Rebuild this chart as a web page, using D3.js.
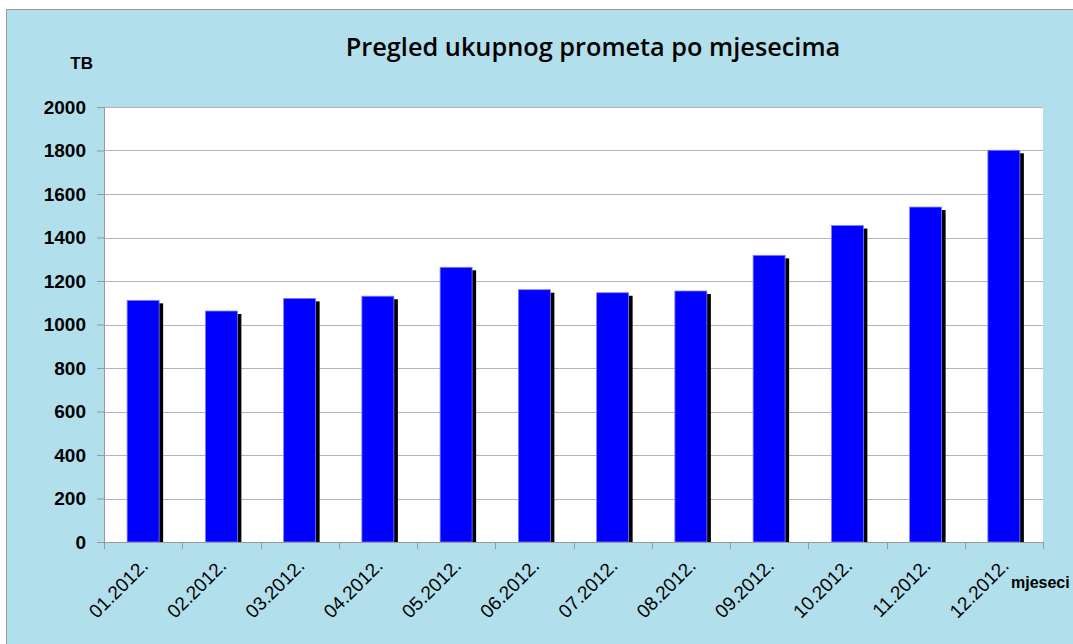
<!DOCTYPE html>
<html>
<head>
<meta charset="utf-8">
<script src="https://cdn.jsdelivr.net/npm/d3@7"></script>
<style>
  body { margin: 0; background: #fff; }
  svg { display: block; }
</style>
</head>
<body>
<div id="chart"></div>
<script>
// data
var months = ["01.2012.", "02.2012.", "03.2012.", "04.2012.", "05.2012.", "06.2012.",
              "07.2012.", "08.2012.", "09.2012.", "10.2012.", "11.2012.", "12.2012."];
var traffic = [1111, 1062, 1120, 1130, 1263, 1160, 1146, 1154, 1318, 1455, 1540, 1801];
var yTicks = [0, 200, 400, 600, 800, 1000, 1200, 1400, 1600, 1800, 2000];

var W = 1073, H = 644;
var margin = {top: 107, right: 30, bottom: 102, left: 104},
    width = 1043 - margin.left,
    height = 542 - margin.top;

var svg = d3.select("#chart")
    .append("svg")
    .attr("width", W)
    .attr("height", H);

// light blue chart background + frame
svg.append("rect")
    .attr("x", 6.5).attr("y", 9.5)
    .attr("width", W + 10).attr("height", H + 10)
    .style("fill", "#b2dfec")
    .style("stroke", "#9a9a9a");

svg.append("text")
    .attr("x", 593).attr("y", 56)
    .attr("text-anchor", "middle")
    .style("font-family", "'Open Sans', sans-serif")
    .style("font-weight", "600")
    .style("font-size", "25.3px")
    .text("Pregled ukupnog prometa po mjesecima");

svg.append("text")
    .attr("x", 93).attr("y", 69)
    .attr("text-anchor", "end")
    .style("font-family", "'Liberation Sans', Arial, sans-serif")
    .style("font-weight", "bold")
    .style("font-size", "17px")
    .text("TB");

var g = svg.append("g")
    .attr("transform", "translate(" + margin.left + "," + margin.top + ")");

g.append("rect")
    .attr("width", width).attr("height", height)
    .style("fill", "#fff");

var x = d3.scaleBand()
    .domain(months)
    .range([0, width])
    .padding(0);

var y = d3.scaleLinear()
    .domain([0, 2000])
    .range([height, 0]);

// gridlines
g.selectAll(".grid")
    .data(yTicks.slice(1))
    .enter().append("line")
    .attr("x1", 0).attr("x2", width)
    .attr("y1", function(d) { return Math.round(y(d)) + 0.5; })
    .attr("y2", function(d) { return Math.round(y(d)) + 0.5; })
    .style("stroke", "#b4b4b4");

// y axis
var yAxis = g.append("g")
    .call(d3.axisLeft(y).tickValues(yTicks).tickFormat(d3.format("d")).tickSize(7).tickPadding(11));
yAxis.select(".domain").style("stroke", "#999");
yAxis.selectAll(".tick line").style("stroke", "#999");
yAxis.selectAll("text")
    .style("font-family", "'Liberation Sans', Arial, sans-serif")
    .style("font-weight", "bold")
    .style("font-size", "19px")
    .style("fill", "#000");

// bars with black drop shadow
var bw = 32;
var bars = g.selectAll(".bar")
    .data(traffic)
    .enter().append("g");

bars.append("rect")
    .attr("x", function(d, i) { return x(months[i]) + x.bandwidth() / 2 - bw / 2 + 4; })
    .attr("y", function(d) { return y(d) + 3; })
    .attr("width", bw)
    .attr("height", function(d) { return height - y(d) - 3; })
    .style("fill", "#000");

bars.append("rect")
    .attr("x", function(d, i) { return x(months[i]) + x.bandwidth() / 2 - bw / 2; })
    .attr("y", function(d) { return y(d); })
    .attr("width", bw)
    .attr("height", function(d) { return height - y(d); })
    .style("fill", "#0000ff")
    .style("stroke", "#7f7fff")
    .style("stroke-width", 0.8);

// x axis: ticks between categories
var xAxis = g.append("g")
    .attr("transform", "translate(0," + height + ")");
xAxis.append("line")
    .attr("x1", 0).attr("x2", width)
    .attr("y1", 0.5).attr("y2", 0.5)
    .style("stroke", "#999");
xAxis.selectAll(".tk")
    .data(months.concat(["end"]))
    .enter().append("line")
    .attr("x1", function(d, i) { return Math.round(i * x.step()) + 0.5; })
    .attr("x2", function(d, i) { return Math.round(i * x.step()) + 0.5; })
    .attr("y1", 0).attr("y2", 7)
    .style("stroke", "#999");

xAxis.selectAll(".lbl")
    .data(months)
    .enter().append("text")
    .attr("transform", function(d) {
        return "translate(" + (x(d) + x.bandwidth() / 2 + 6) + ",25) rotate(-45)";
    })
    .attr("text-anchor", "end")
    .style("font-family", "'Liberation Sans', Arial, sans-serif")
    .style("font-size", "19px")
    .style("fill", "#000")
    .text(function(d) { return d; });

svg.append("text")
    .attr("x", 1011).attr("y", 588)
    .style("font-family", "'Liberation Sans', Arial, sans-serif")
    .style("font-weight", "bold")
    .style("font-size", "16px")
    .text("mjeseci");
</script>
</body>
</html>
